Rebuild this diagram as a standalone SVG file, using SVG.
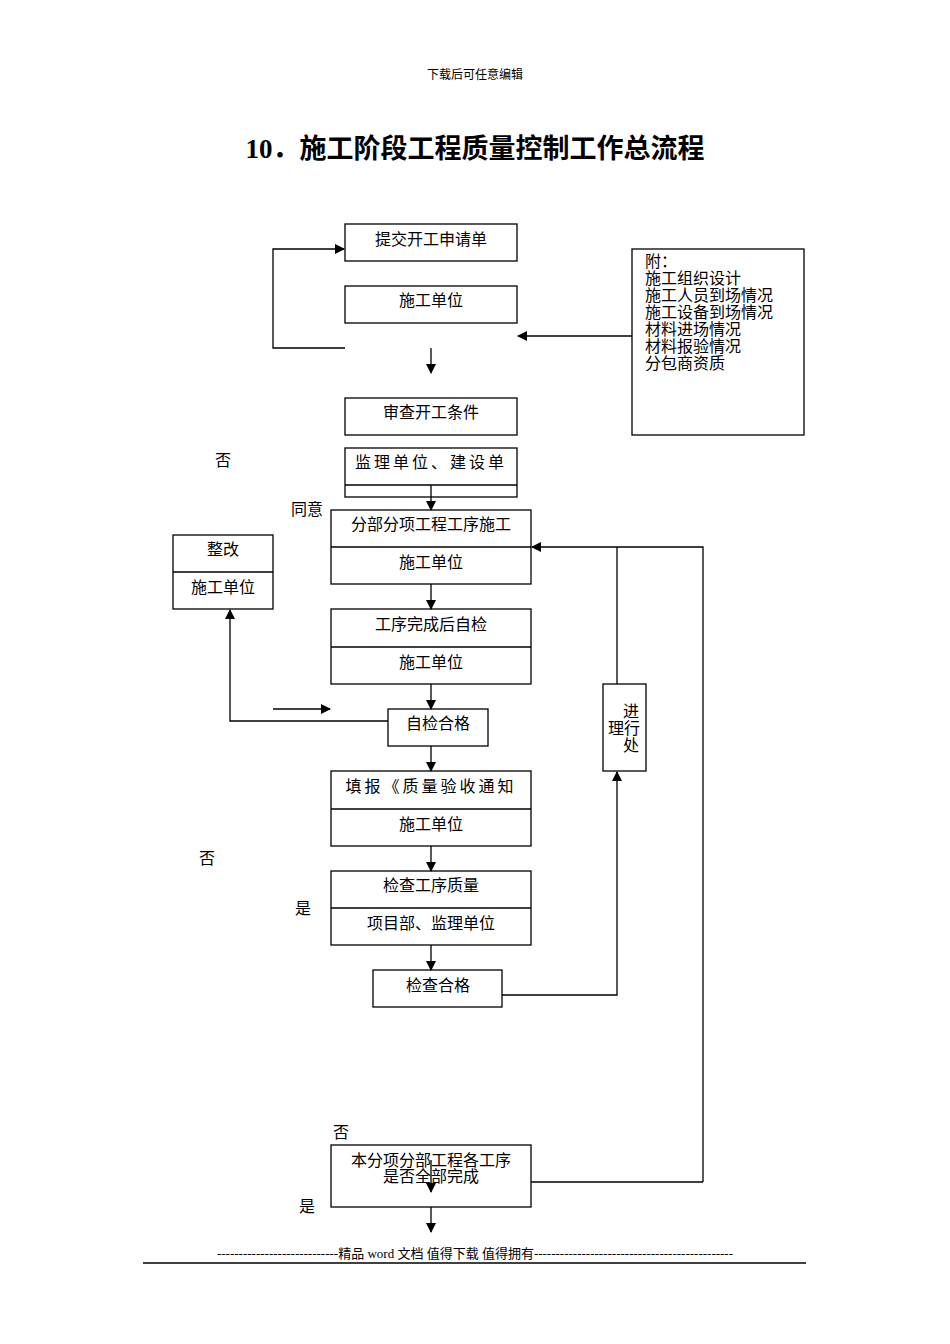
<svg xmlns="http://www.w3.org/2000/svg" width="950" height="1344" viewBox="0 0 950 1344">
<style>
text{font-family:"Liberation Serif","Noto Sans CJK SC",serif;font-size:16px;fill:#000}
.c{text-anchor:middle}
rect{fill:#fff;stroke:#000;stroke-width:1.3}
.d{stroke:#000;stroke-width:1.3}
#conn path,#conn line{stroke:#000;stroke-width:1.3;fill:none}
</style>
<defs><marker id="a" markerWidth="10" markerHeight="10" refX="9" refY="5" orient="auto" markerUnits="userSpaceOnUse"><path d="M0,0 L10,5 L0,10z" fill="#000"/></marker></defs>
<rect x="0" y="0" width="950" height="1344" style="stroke:none"/>
<text x="475" y="79" class="c" style="font-size:12px">下载后可任意编辑</text>
<text x="475" y="158" class="c" style="font-size:27px;font-weight:bold">10．施工阶段工程质量控制工作总流程</text>
<g id="n1"><rect x="345" y="224" width="172" height="37"/><text x="431" y="245" class="c">提交开工申请单</text></g>
<g id="n2"><rect x="345" y="286" width="172" height="37"/><text x="431" y="306" class="c">施工单位</text></g>
<g id="n3"><rect x="345" y="398" width="172" height="37"/><text x="431" y="418" class="c">审查开工条件</text></g>
<g id="n4"><rect x="345" y="448" width="172" height="49"/><text x="431" y="468" class="c" style="letter-spacing:3px">监理单位、建设单</text><rect x="346" y="485" width="170" height="11" style="stroke:none"/><line class="d" x1="345" y1="485" x2="517" y2="485"/></g>
<g id="n5"><rect x="331" y="510" width="200" height="74"/><line class="d" x1="331" y1="547" x2="531" y2="547"/><text x="431" y="530" class="c">分部分项工程工序施工</text><text x="431" y="568" class="c">施工单位</text></g>
<g id="n6"><rect x="173" y="535" width="100" height="74"/><line class="d" x1="173" y1="572" x2="273" y2="572"/><text x="223" y="555" class="c">整改</text><text x="223" y="593" class="c">施工单位</text></g>
<g id="n7"><rect x="331" y="609" width="200" height="75"/><line class="d" x1="331" y1="647" x2="531" y2="647"/><text x="431" y="630" class="c">工序完成后自检</text><text x="431" y="668" class="c">施工单位</text></g>
<g id="n8"><rect x="388" y="709" width="100" height="37"/><text x="438" y="729" class="c">自检合格</text></g>
<g id="n9"><rect x="331" y="771" width="200" height="75"/><text x="431" y="792" class="c" style="letter-spacing:3px">填报《质量验收通知</text><rect x="332" y="797" width="198" height="11" style="stroke:none"/><line class="d" x1="331" y1="809" x2="531" y2="809"/><text x="431" y="830" class="c">施工单位</text></g>
<g id="n10"><rect x="331" y="871" width="200" height="74"/><line class="d" x1="331" y1="908" x2="531" y2="908"/><text x="431" y="891" class="c">检查工序质量</text><text x="431" y="929" class="c">项目部、监理单位</text></g>
<g id="n11"><rect x="373" y="970" width="129" height="37"/><text x="438" y="991" class="c">检查合格</text></g>
<g id="n12"><rect x="603" y="684" width="43" height="87"/><text x="631" y="717" class="c">进</text><text x="624" y="734" class="c">理行</text><text x="631" y="751" class="c">处</text></g>
<g id="n13"><rect x="331" y="1145" width="200" height="62"/><text x="431" y="1166" class="c">本分项分部工程各工序</text><text x="431" y="1182" class="c">是否全部完成</text></g>
<g id="n14"><rect x="632" y="249" width="172" height="186"/><text x="645" y="267">附：</text><text x="645" y="284">施工组织设计</text><text x="645" y="301">施工人员到场情况</text><text x="645" y="318">施工设备到场情况</text><text x="645" y="335">材料进场情况</text><text x="645" y="352">材料报验情况</text><text x="645" y="369">分包商资质</text></g>
<g id="conn">
<path d="M345,348 H273 V249 H344" marker-end="url(#a)"/>
<path d="M632,336 H518" marker-end="url(#a)"/>
<path d="M431,348 V373" marker-end="url(#a)"/>
<path d="M431,485 V510" marker-end="url(#a)"/>
<path d="M703,1182 V547 H532" marker-end="url(#a)"/>
<path d="M617,684 V547"/>
<path d="M431,584 V609" marker-end="url(#a)"/>
<path d="M431,684 V709" marker-end="url(#a)"/>
<path d="M388,721 H230 V610" marker-end="url(#a)"/>
<path d="M273,709 H330" marker-end="url(#a)"/>
<path d="M431,746 V771" marker-end="url(#a)"/>
<path d="M431,846 V871" marker-end="url(#a)"/>
<path d="M431,945 V970" marker-end="url(#a)"/>
<path d="M502,995 H617 V772" marker-end="url(#a)"/>
<path d="M531,1182 H703"/>
<path d="M431,1160 V1192" marker-end="url(#a)"/>
<path d="M431,1207 V1232" marker-end="url(#a)"/>
</g>
<text x="223" y="466" class="c">否</text>
<text x="307" y="515" class="c">同意</text>
<text x="207" y="864" class="c">否</text>
<text x="303" y="914" class="c">是</text>
<text x="341" y="1138" class="c">否</text>
<text x="307" y="1212" class="c">是</text>
<text x="475" y="1258" class="c" style="font-size:13px">----------------------------精品 word 文档 值得下载 值得拥有----------------------------------------------</text>
<line class="d" x1="143" y1="1263" x2="806" y2="1263"/>
</svg>
